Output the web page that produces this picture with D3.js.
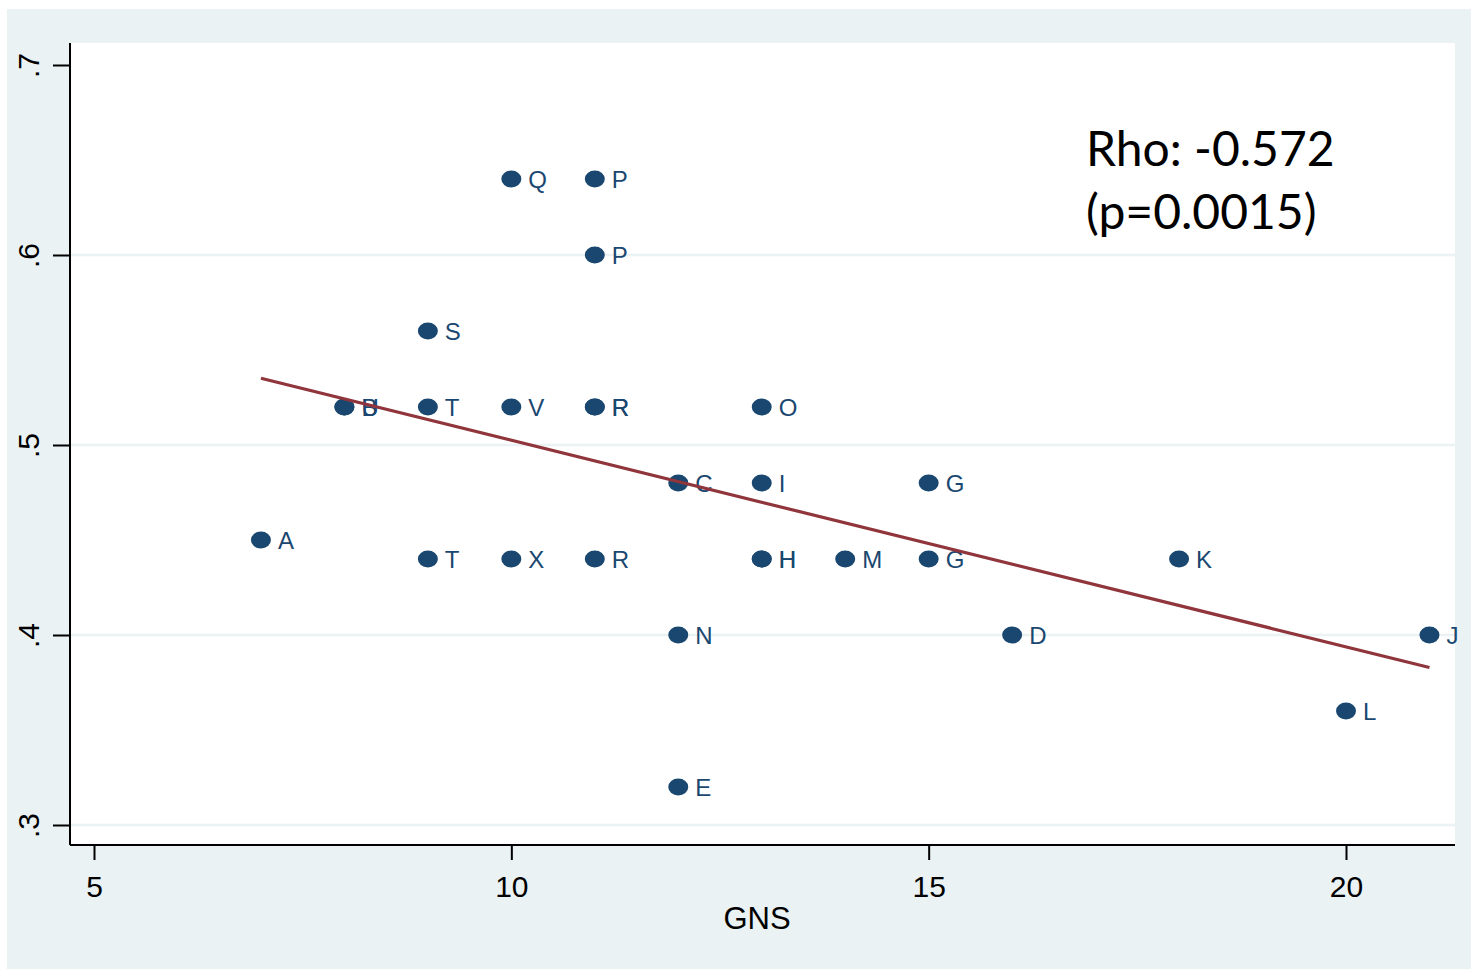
<!DOCTYPE html>
<html>
<head>
<meta charset="utf-8">
<script src="https://cdn.jsdelivr.net/npm/d3@7"></script>
<style>
  html, body { margin: 0; padding: 0; background: #ffffff; }
  svg { display: block; }
</style>
</head>
<body>
<svg id="chart"></svg>
<script>
// values
const gns   = [10, 11, 11, 9, 8, 8, 9, 10, 11, 11, 13, 12, 13, 15, 7, 9, 10, 11, 13, 13, 14, 15, 18, 12, 16, 21, 20, 12];
const score = [.64, .64, .60, .56, .52, .52, .52, .52, .52, .52, .52, .48, .48, .48, .45, .44, .44, .44, .44, .44, .44, .44, .44, .40, .40, .40, .36, .32];
const names = ["Q", "P", "P", "S", "B", "U", "T", "V", "R", "R", "O", "C", "I", "G", "A", "T", "X", "R", "H", "H", "M", "G", "K", "N", "D", "J", "L", "E"];

const fitX = [7, 21];
const fitY = [0.5351, 0.3829];

const xTicks = [5, 10, 15, 20];
const yTicks = [.3, .4, .5, .6, .7];
const yTickLabels = [".3", ".4", ".5", ".6", ".7"];
const gridTicks = [.3, .4, .5, .6];

const W = 1471, H = 970;
const plot = { left: 70, right: 1455, top: 43, bottom: 845 };

const navy = "#1a476f", maroon = "#90353b", bg = "#eaf2f3";

const svg = d3.select("#chart").attr("width", W).attr("height", H);

svg.append("rect").attr("x", 7).attr("y", 9).attr("width", W - 7).attr("height", H - 9 - 1).attr("fill", bg);
svg.append("rect").attr("x", plot.left).attr("y", plot.top)
  .attr("width", plot.right - plot.left).attr("height", plot.bottom - plot.top).attr("fill", "#fff");

const x = d3.scaleLinear().domain([5, 20]).range([94, 1346]);
const y = d3.scaleLinear().domain([.3, .7]).range([825, 65]);

// grid
svg.append("g").selectAll("line").data(gridTicks).enter().append("line")
  .attr("x1", plot.left).attr("x2", plot.right)
  .attr("y1", d => y(d)).attr("y2", d => y(d))
  .attr("stroke", bg).attr("stroke-width", 2.5);

// axes
const yAxis = svg.append("g").attr("transform", `translate(${plot.left},0)`)
  .call(d3.axisLeft(y).tickValues(yTicks).tickSize(17).tickPadding(14)
    .tickFormat((d, i) => yTickLabels[i]));
yAxis.select(".domain").attr("d", `M0,${plot.top}V${plot.bottom}`).attr("stroke", "#000").attr("stroke-width", 2);
yAxis.selectAll(".tick line").attr("stroke", "#000").attr("stroke-width", 2);
yAxis.selectAll(".tick text")
  .attr("font-family", "Liberation Sans, Arial, sans-serif").attr("font-size", 30).attr("fill", "#000")
  .attr("x", null).attr("dy", null)
  .attr("text-anchor", "middle")
  .attr("transform", "translate(-31,0) rotate(-90)");

const xAxis = svg.append("g").attr("transform", `translate(0,${plot.bottom})`)
  .call(d3.axisBottom(x).tickValues(xTicks).tickSize(15).tickPadding(14).tickFormat(d3.format("d")));
xAxis.select(".domain").attr("d", `M${plot.left},0H${plot.right}`).attr("stroke", "#000").attr("stroke-width", 2);
xAxis.selectAll(".tick line").attr("stroke", "#000").attr("stroke-width", 2);
xAxis.selectAll(".tick text")
  .attr("font-family", "Liberation Sans, Arial, sans-serif").attr("font-size", 30).attr("fill", "#000")
  .attr("y", 52).attr("dy", null);

svg.append("text").attr("x", 757).attr("y", 929).attr("text-anchor", "middle")
  .attr("font-family", "Liberation Sans, Arial, sans-serif").attr("font-size", 31).attr("fill", "#000")
  .text("GNS");

// points
const pts = gns.map((g, i) => ({ g, s: score[i], n: names[i] }));

svg.append("g").selectAll("ellipse").data(pts).enter().append("ellipse")
  .attr("cx", d => x(d.g)).attr("cy", d => y(d.s))
  .attr("rx", 10).attr("ry", 8.5).attr("fill", navy);

svg.append("g").selectAll("text").data(pts).enter().append("text")
  .attr("x", d => x(d.g) + 17).attr("y", d => y(d.s) + 9)
  .attr("font-family", "Liberation Sans, Arial, sans-serif").attr("font-size", 24).attr("fill", navy)
  .text(d => d.n);

// fit line
svg.append("line")
  .attr("x1", x(fitX[0])).attr("y1", y(fitY[0]))
  .attr("x2", x(fitX[1])).attr("y2", y(fitY[1]))
  .attr("stroke", maroon).attr("stroke-width", 3.2);

// annotation
const note = svg.append("text").attr("font-family", "Lato, Open Sans, sans-serif").attr("font-size", 48).attr("fill", "#000");
note.append("tspan").attr("x", 1086).attr("y", 166).text("Rho: -0.572");
note.append("tspan").attr("x", 1086).attr("y", 229).text("(p=0.0015)");
</script>
</body>
</html>
